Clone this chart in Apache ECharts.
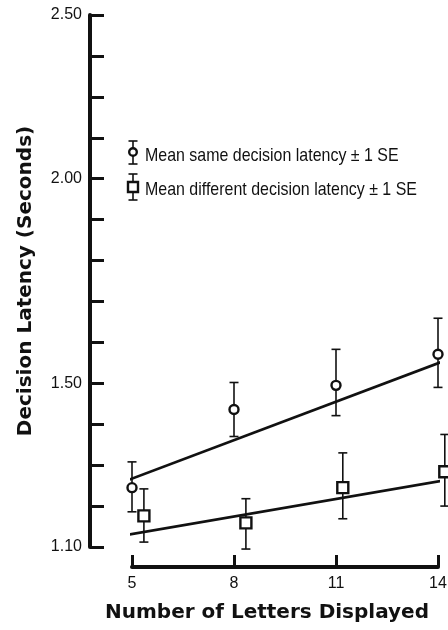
<!DOCTYPE html>
<html>
<head>
<meta charset="utf-8">
<script src="https://cdn.jsdelivr.net/npm/echarts@6/dist/echarts.min.js"></script>
<style>
html,body{margin:0;padding:0;background:#fff;}
#chart{width:448px;height:630px;}
</style>
</head>
<body>
<div id="chart"></div>
<script>
// ---- data ----
const lettersSame = [5, 8, 11, 14];
const meanSame = [1.245, 1.436, 1.495, 1.571];
const seLowSame = [1.186, 1.370, 1.421, 1.490];
const seHighSame = [1.308, 1.502, 1.583, 1.659];

const lettersDiff = [5.35, 8.35, 11.2, 14.2];
const meanDiff = [1.176, 1.159, 1.245, 1.284];
const seLowDiff = [1.112, 1.095, 1.169, 1.200];
const seHighDiff = [1.242, 1.218, 1.330, 1.375];

const fitX = [4.68, 14.35];
const fitSame = [1.257, 1.560];
const fitDiff = [1.127, 1.265];

const xTicks = [5, 8, 11, 14];
const yTickValues = [1.1, 1.5, 2.0, 2.4];
const yTickTexts = ['1.10', '1.50', '2.00', '2.50'];

const legendTexts = ['Mean same decision latency \u00b1 1 SE', 'Mean different decision latency \u00b1 1 SE'];
const xTitle = 'Number of Letters Displayed';
const yTitle = 'Decision Latency (Seconds)';

// ---- build ----
const zip = (a, b) => a.map((v, i) => [v, b[i]]);
const errData = (xs, lo, hi) => xs.map((x, i) => [x, lo[i], hi[i]]);

function errRender(params, api) {
  const x = api.value(0);
  const top = api.coord([x, api.value(2)]);
  const bot = api.coord([x, api.value(1)]);
  const cap = 4.5;
  const st = { stroke: '#111', lineWidth: 1.6 };
  return {
    type: 'group',
    children: [
      { type: 'line', shape: { x1: top[0], y1: top[1], x2: bot[0], y2: bot[1] }, style: st },
      { type: 'line', shape: { x1: top[0] - cap, y1: top[1], x2: top[0] + cap, y2: top[1] }, style: st },
      { type: 'line', shape: { x1: bot[0] - cap, y1: bot[1], x2: bot[0] + cap, y2: bot[1] }, style: st }
    ]
  };
}

const sans = '"Liberation Sans", Arial, sans-serif';

function legendItem(cx, cy, top, bottom, isSquare, text, ty) {
  const st = { stroke: '#111', lineWidth: 1.6 };
  return {
    type: 'group', z: 100,
    children: [
      { type: 'line', shape: { x1: cx, y1: top, x2: cx, y2: bottom }, style: st },
      { type: 'line', shape: { x1: cx - 4.5, y1: top, x2: cx + 4.5, y2: top }, style: st },
      { type: 'line', shape: { x1: cx - 4.5, y1: bottom, x2: cx + 4.5, y2: bottom }, style: st },
      isSquare
        ? { type: 'rect', shape: { x: cx - 5, y: cy - 5, width: 10, height: 10 }, style: { fill: '#fff', stroke: '#111', lineWidth: 2.4 } }
        : { type: 'circle', shape: { cx: cx, cy: cy, r: 3.8 }, style: { fill: '#fff', stroke: '#111', lineWidth: 2.4 } },
      { type: 'text', x: 145, y: ty, scaleX: 0.84,
        style: { text: text, font: '19px ' + sans, fill: '#111', textVerticalAlign: 'middle' } }
    ]
  };
}

const chart = echarts.init(document.getElementById('chart'));
chart.setOption({
  animation: false,
  backgroundColor: '#fff',
  grid: { left: 132, right: 10, top: 15, bottom: 83, outerBoundsMode: 'none', containLabel: false },
  xAxis: {
    type: 'value', min: 5, max: 14, interval: 3, offset: 20,
    axisLine: { lineStyle: { color: '#111', width: 4 } },
    axisTick: { inside: true, length: 12, lineStyle: { color: '#111', width: 3 } },
    splitLine: { show: false },
    axisLabel: { color: '#111', fontSize: 16, margin: 9, fontFamily: sans,
      formatter: v => (xTicks.indexOf(Math.round(v)) >= 0 ? String(Math.round(v)) : '') },
    name: xTitle, nameLocation: 'middle', nameGap: 36,
    nameTextStyle: { color: '#111', fontSize: 20, fontWeight: 'bold', fontFamily: '"DejaVu Sans", sans-serif',
      padding: [0, 36, 0, 0] }
  },
  yAxis: {
    type: 'value', min: 1.1, max: 2.4, interval: 0.1, offset: 42,
    axisLine: { lineStyle: { color: '#111', width: 4 } },
    axisTick: { inside: true, length: 14, lineStyle: { color: '#111', width: 3 } },
    splitLine: { show: false },
    axisLabel: { color: '#111', fontSize: 16, margin: 8, fontFamily: sans,
      formatter: v => {
        const i = yTickValues.findIndex(t => Math.abs(t - v) < 1e-6);
        return i >= 0 ? yTickTexts[i] : '';
      } },
    name: yTitle, nameLocation: 'middle', nameGap: 54, nameRotate: 90,
    nameTextStyle: { color: '#111', fontSize: 20, fontWeight: 'bold', fontFamily: '"DejaVu Sans", sans-serif' }
  },
  graphic: [
    legendItem(133, 152, 141, 164, false, legendTexts[0], 156),
    legendItem(133, 187, 174, 200, true, legendTexts[1], 190)
  ],
  series: [
    { type: 'line', data: zip(fitX, fitSame), showSymbol: false, symbol: 'none', clip: false,
      lineStyle: { color: '#111', width: 2.6 }, z: 2 },
    { type: 'line', data: zip(fitX, fitDiff), showSymbol: false, symbol: 'none', clip: false,
      lineStyle: { color: '#111', width: 2.6 }, z: 2 },
    { type: 'custom', data: errData(lettersSame, seLowSame, seHighSame), renderItem: errRender, clip: false, z: 3 },
    { type: 'custom', data: errData(lettersDiff, seLowDiff, seHighDiff), renderItem: errRender, clip: false, z: 3 },
    { type: 'scatter', data: zip(lettersSame, meanSame), symbol: 'circle', symbolSize: 9, clip: false, z: 5,
      itemStyle: { color: '#fff', borderColor: '#111', borderWidth: 2.4, opacity: 1 } },
    { type: 'scatter', data: zip(lettersDiff, meanDiff), symbol: 'rect', symbolSize: 11, clip: false, z: 5,
      itemStyle: { color: '#fff', borderColor: '#111', borderWidth: 2.4, opacity: 1 } }
  ]
});
</script>
</body>
</html>
